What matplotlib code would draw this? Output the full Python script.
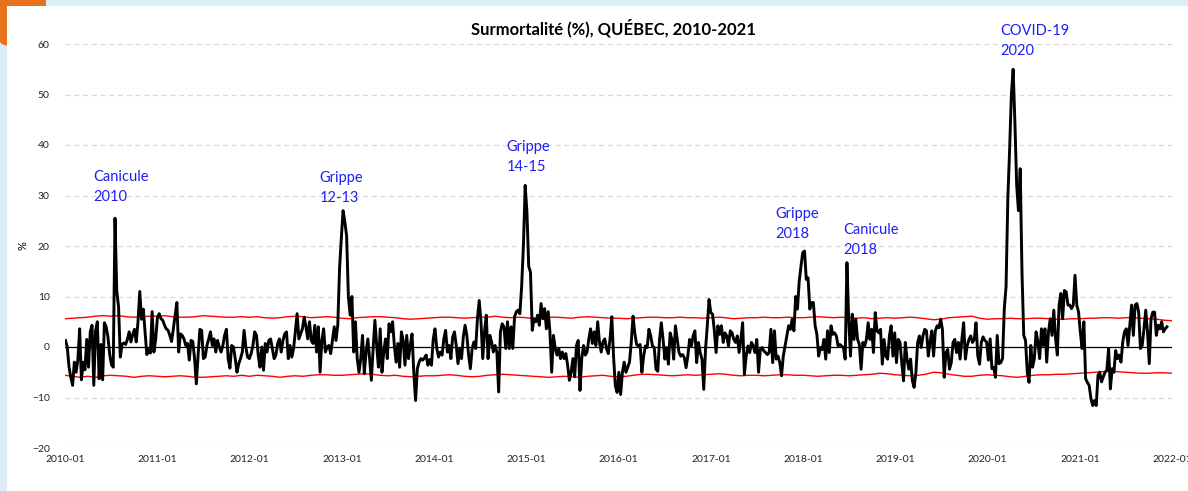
import numpy as np
import pandas as pd
import matplotlib; matplotlib.use("Agg")
import matplotlib.pyplot as plt
import matplotlib.dates as mdates
from matplotlib.patches import Rectangle, FancyBboxPatch

plt.rcParams["font.family"] = ["Lato", "DejaVu Sans"]

# surmortalité hebdomadaire (%), 52 semaines par année
y2010 = [1.3, 0, -4, -6, -7.6, -3, -5, -2.5, 3.6, -6.5, -3, -4.5, 1.5, -4, 3, 4.3, -7.6, 3.2, 5, -6.3,
         0.5, -6.5, 4.8, 4, 2, -1.5, -3.5, -4, 25.5, 11, 8, -2, 0.5, 0.8, 0.5, 1.5, 3, 1, 2.5, 3.5,
         1, 5, 11, 5.5, 7.5, 3, -1.5, -0.5, -1.2, 7, -1, 1.5]
y2011 = [5.9, 6.6, 5.6, 5.3, 4.3, 3.6, 3.3, 2.3, 1.1, 3.6, 6.3, 8.8, -1, 2.6, 2.3, 1.6, 0.3, 0.7, -2.6, 1.3,
         1.1, -2.3, -7.3, -1.6, 3.5, 3.3, -2.3, -2, 0.3, 1.6, 3, 0.3, 1.6, -1, 1.3, 0, -1, 0.3, 2.3, 3.5,
         -2.3, -4.2, 0.3, 0, -2.3, -5, -3.3, -2.3, -1, 3.3, 0, -2]
y2012 = [-2.3, -1.3, 0.3, 3, 2.3, -1.6, -4, 0, -4.6, 0.7, -1, 1.3, 1.6, -0.3, -2.3, -1.6, 0.7, 1.6, -1, 1.3,
         2.6, 3, -2.3, 0.3, -2, -0.3, 3, 6.6, 1.6, 2.6, 3.6, 5.9, 4, 1.6, 5, 1.3, 0.7, 4.3, -1, 4,
         -5, 1.3, 3.6, -1, 0, 0.3, -1.3, 1.3, 4, 1.3, 4.3, 15.5]
y2013 = [21.5, 27, 24.8, 22, 10, 6.3, 10, -1, 5, -2.3, -5, -2.3, 2.3, -5.3, -1, 1.6, -2.3, -6.6, -0.3, 5.3,
         0.3, -4, 3.6, -5, -1, 1.6, -2.3, 4.6, 3, 5, 0.3, -3, 0.7, -4, 3, 1.3, -3.6, 2.3, -2.3, 0.3,
         2.6, -5, -10.6, -4.3, -3, -2.3, -2.6, -2.2, -1.6, -3.6, -2.5, -3.6]
y2014 = [1.6, 3.6, -0.3, -2, -1, -1.6, 1.6, 3.3, -1, 0.3, -2.3, 2, 3, 0.3, -3.3, -0.3, -2.3, 2, 4.3, 2.3,
         -1.6, -4.3, -0.3, 1, -0.3, 5.6, 9.2, 5, -2.3, 3, 6.3, -2.3, 2.3, 1, -1, 0.3, -1, -8.9, 3, 4.6,
         4, -0.3, 5, -0.3, 4, -0.3, 6, 7, 7.3, 6.6, 12, 20]
y2015 = [32, 26.7, 16, 14.8, 3.3, 5.6, 5, 6.3, 4.3, 8.6, 5.6, 7.6, 3.6, 7, 3, -5, 2.3, -0.3, -1.6, -0.3,
         -2.3, -1, -2.3, -1.3, -3.6, -6.6, -5, -2.3, -5.9, 0.3, 1.3, -8.6, -2.3, 0.3, -1.6, -1, 1.6, 3.6, 0.7, 3,
         0.3, 5, 1, -1, 1, 1.6, -0.3, -1.3, 1.6, 6, -2, -7.7]
y2016 = [-9, -5, -9.4, -5, -3, -5, -4, -3, 0.9, 6.1, 2.8, 0.5, 0.2, 0.5, -5, -1.8, 0.2, -0.1, 3.5, 2.2,
         0.2, -0.1, -4.4, -4.8, 1.5, 4.8, 1.5, -2.4, -0.1, -3.4, 2.8, 1.5, -2.4, 4.2, 1.5, -1.1, -1.8, -1.5, -2.1, -4.1,
         -1.8, 1.5, 0.2, 2.2, 3.2, -3.1, 0.9, -1.1, -2.4, -8.4, -0.5, 4.2]
y2017 = [9.4, 6.8, 6.5, 3.2, -1.1, 4.2, 2.5, 4.2, 0.9, 2.8, 2.2, 0.2, 3.2, 2.8, 1.5, 0.9, 2.2, -1.1, 1.5, 4.8,
         -5.4, -1.8, 0.2, -1.1, 0.9, 0.2, -1.1, 1.5, -5, -0.5, -0.1, -0.8, -1.1, -1.5, -1.1, 3.5, -3.1, 3.2, -2.4, -1.8,
         -3.1, -5.7, -1.8, 0.2, 2.2, 4.2, 3.5, 5.5, 3.2, 10, 7.5, 13]
y2018 = [16, 18.7, 19, 13.4, 13.7, 7.5, 8.8, 8.8, 4.2, 2.5, -1.8, -0.1, -0.5, 1.5, -2.4, 3.2, -1.1, 4.2, 2.5, 2.8,
         2.2, 0.2, 0.5, 0.2, -0.1, -2.4, 16.7, 5.5, -1.8, 6.5, 1.5, 5.5, 1.5, 0.5, -4.4, 0.9, 0.2, 1.5, 4.8, 1.5,
         3.5, -1.1, 6.8, 3.2, 2.8, 3.5, -3.4, 1.5, -1.8, -2.4, 2.2, 4.2]
y2019 = [-1.8, 2.8, -3.1, 1.5, 0.9, -3.1, -6.7, 0.9, -2.4, -4.4, -2.4, -6.7, -8, -5, 0.9, 2.2, -0.1, 2.2, 3.5, 3.2,
         -1.8, 0.9, 3.2, -1.8, 3.2, 4.2, 3.8, 5.5, 3.5, -6, -1.1, -0.5, -4.4, -3.1, 0.9, 1.5, -1.1, 0.9, -2.4, 1.5,
         4.8, -2.4, 0.2, 1.5, 2.2, 0.9, 1.5, 4.8, -1.8, -3.4, 0.9, 2]
y2020 = [1.3, 1, -2.6, 1.6, -4.3, -4, -6, 2.3, -3.3, -3.1, -2.3, 7.6, 12, 29.4, 39, 50, 55, 44.5, 32, 27,
         35.3, 14.9, 2.3, 1.3, -5, -7, 0.3, -4, -2.3, 3, 1, -2.3, 3.6, 0.3, 3.6, -3, 3, 5.6, 2.3, 7.3,
         1.6, -1.6, 8.3, 10.6, 5.6, 11.2, 10.9, 8.3, 8.3, 7.6, 8.3, 14.2]
y2021 = [8.3, 6.9, 3, -0.3, 5, -6.3, -7, -7.6, -10.2, -11.6, -10.6, -11.6, -5.6, -5, -6.9, -5.9, -5, -4.6, -0.3, -8.3,
         -4.3, -5, -0.7, -2.3, -1.6, -3, 1, 3, 3.6, 0.3, 4.3, 8.3, 2.3, 8.3, 8.6, 6.9, -0.3, 0.3, 3.6, 7.3,
         3, -3.3, 5.6, 6.9, 6.9, 2.3, 4.3, 3.6, 5, 3, 3.6, 4]

# limites (seuils) mensuelles, janv. 2010 -> janv. 2022
upper = [5.6, 5.7, 5.8, 5.9, 6.1, 6.2, 6.1, 6.2, 6.0, 5.9, 6.0, 6.1,
         6.1, 6.2, 6.0, 5.9, 5.9, 6.0, 6.2, 6.1, 6.0, 5.9, 5.9, 6.0,
         5.9, 6.0, 5.8, 5.7, 5.8, 6.0, 6.1, 6.0, 5.8, 5.9, 6.0, 5.9,
         5.7, 5.6, 5.8, 5.9, 6.0, 6.0, 5.9, 5.8, 5.6, 5.5, 5.6, 5.7,
         5.8, 5.9, 5.9, 5.8, 5.7, 5.8, 5.9, 5.9, 6.1, 5.9, 5.8, 5.9,
         5.8, 5.6, 5.8, 5.9, 5.9, 5.8, 5.7, 5.9, 6.0, 5.9, 5.8, 5.7,
         5.7, 5.6, 5.7, 5.8, 5.9, 5.9, 5.8, 5.8, 5.9, 5.8, 5.8, 5.7,
         5.8, 5.9, 5.8, 5.6, 5.7, 5.8, 5.8, 5.9, 5.8, 5.8, 5.9, 5.8,
         5.8, 5.9, 6.0, 5.9, 5.8, 5.9, 5.8, 5.7, 5.8, 5.6, 5.7, 5.8,
         5.7, 5.8, 5.9, 5.8, 5.6, 5.4, 5.5, 5.8, 5.9, 6.0, 6.1, 5.7,
         5.5, 5.6, 5.6, 5.7, 5.6, 5.6, 5.7, 5.7, 5.6, 5.5, 5.5, 5.6,
         5.6, 5.7, 5.7, 5.8, 5.8, 5.7, 5.8, 5.8, 5.7, 5.6, 5.5, 5.3, 5.2]
lower = [-5.6, -5.8, -6.0, -5.8, -6.0, -5.7, -5.6, -5.7, -5.8, -6.0, -5.8, -5.7,
         -5.8, -5.9, -5.8, -5.7, -5.8, -6.0, -6.0, -5.9, -5.8, -5.7, -5.8, -5.6,
         -5.8, -5.6, -5.7, -5.8, -6.0, -5.8, -5.7, -5.8, -5.6, -5.5, -5.5, -5.6,
         -5.6, -5.5, -5.4, -5.3, -5.4, -5.6, -5.7, -5.6, -5.8, -5.9, -5.8, -5.7,
         -5.7, -5.6, -5.5, -5.6, -5.8, -5.9, -5.8, -5.6, -5.5, -5.4, -5.5, -5.6,
         -5.7, -5.8, -5.9, -6.0, -5.9, -5.8, -5.9, -6.0, -5.8, -5.7, -5.6, -5.8,
         -5.9, -5.8, -5.6, -5.4, -5.4, -5.5, -5.6, -5.7, -5.6, -5.5, -5.6, -5.5,
         -5.4, -5.3, -5.4, -5.6, -5.7, -5.6, -5.6, -5.7, -5.6, -5.5, -5.5, -5.6,
         -5.6, -5.7, -5.8, -5.7, -5.6, -5.6, -5.7, -5.6, -5.5, -5.4, -5.2, -5.3,
         -5.5, -5.6, -5.7, -5.6, -5.4, -5.0, -5.1, -5.4, -5.6, -5.8, -5.8, -5.6,
         -5.5, -5.6, -5.7, -5.9, -6.0, -5.8, -5.6, -5.5, -5.5, -5.4, -5.4, -5.3,
         -5.2, -5.1, -5.0, -4.9, -4.8, -4.9, -5.0, -5.1, -5.2, -5.2, -5.1, -5.1, -5.2]

events = ["Canicule\n2010", "Grippe\n12-13", "Grippe\n14-15", "Grippe\n2018", "Canicule\n2018", "COVID-19\n2020"]
event_dates = ["2010-04-24", "2012-10-06", "2014-10-16", "2017-09-12", "2018-06-08", "2020-02-20"]
event_y = [35.0, 34.8, 41.0, 27.8, 24.6, 64.0]

surm = np.concatenate([y2010, y2011, y2012, y2013, y2014, y2015,
                       y2016, y2017, y2018, y2019, y2020, y2021])
weeks = pd.date_range("2010-01-03", periods=len(surm), freq="7D")
months = pd.date_range("2010-01-01", periods=len(upper), freq="MS")

fig = plt.figure(figsize=(11.88, 4.91), dpi=100)
fig.patch.set_facecolor("#dbeef8")
W, H = 1188, 491
fig.add_artist(FancyBboxPatch((0, 1 - 46 / H), 46 / W, 60 / H, boxstyle="round,pad=0,rounding_size=0.01",
                              transform=fig.transFigure, facecolor="#e8711c", edgecolor="none", zorder=-3))
fig.add_artist(Rectangle((7 / W, 0), 1, 1 - 6 / H, transform=fig.transFigure,
                         facecolor="white", edgecolor="none", zorder=-2))

ax = fig.add_axes([65 / W, 43 / H, 1107 / W, 404 / H])
ax.set_zorder(1)
ax.set_facecolor("none")
ax.plot(months, upper, color="red", lw=1.0, zorder=3)
ax.plot(months, lower, color="red", lw=1.0, zorder=3)
ax.axhline(0, color="black", lw=0.9, zorder=2)
ax.plot(weeks, surm, color="black", lw=2.1, zorder=4)

for txt, d, yv in zip(events, event_dates, event_y):
    ax.text(pd.Timestamp(d), yv, txt, color="#1f1ff5", fontsize=10.5, ha="left", va="top",
            linespacing=1.55, clip_on=False, zorder=5)

ax.set_ylim(-20, 60)
ax.set_yticks(range(-20, 61, 10))
ax.set_xlim(pd.Timestamp("2010-01-01"), pd.Timestamp("2022-01-01"))
ax.xaxis.set_major_locator(mdates.YearLocator())
ax.xaxis.set_major_formatter(mdates.DateFormatter("%Y-%m"))
ax.grid(axis="y", color="#d9d9d9", ls=(0, (4, 3)), lw=0.9)
ax.tick_params(length=0, labelsize=7.5, colors="#222222")
ax.tick_params(axis="y", pad=11)
ax.tick_params(axis="x", pad=5)
for s in ax.spines.values():
    s.set_visible(False)
ax.set_ylabel("%", fontsize=8)
ax.yaxis.set_label_coords(-0.033, 0.5)
ax.set_title("Surmortalité (%), QUÉBEC, 2010-2021", fontsize=12, fontweight="bold", pad=7, x=0.495)

fig.savefig("out.png", dpi=100, facecolor=fig.get_facecolor())
